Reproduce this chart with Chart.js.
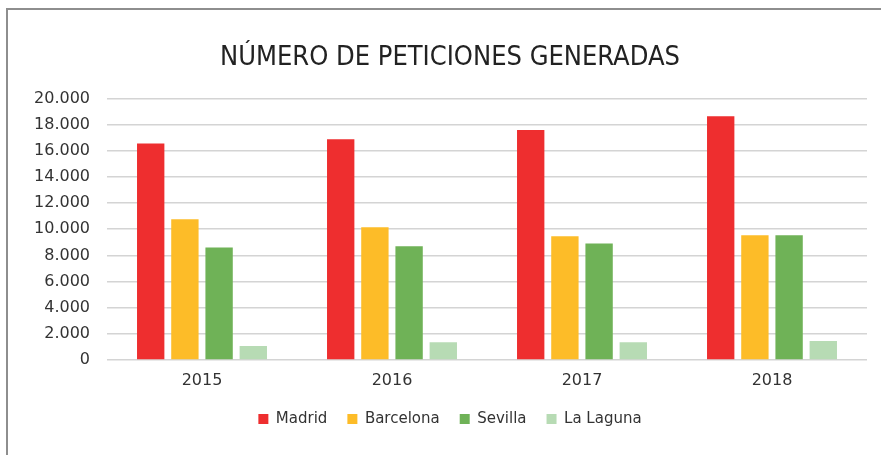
<!DOCTYPE html>
<html>
<head>
<meta charset="utf-8">
<script src="https://cdn.jsdelivr.net/npm/chart.js@4"></script>
<style>
  html, body { margin: 0; padding: 0; background: #fff; }
  #wrap { position: relative; width: 881px; height: 455px; overflow: hidden; }
  #frame {
    position: absolute; left: 6px; top: 8px; width: 900px; height: 500px;
    border-left: 2px solid #8e8e8e; border-top: 2px solid #8e8e8e;
    box-sizing: border-box;
  }
  canvas { position: absolute; left: 0; top: 0; }
</style>
</head>
<body>
<div id="wrap">
  <div id="frame"></div>
  <canvas id="chart" width="881" height="455"></canvas>
</div>
<script>
const years = ['2015', '2016', '2017', '2018'];
const madrid = [16550, 16870, 17580, 18630];
const barcelona = [10760, 10150, 9470, 9540];
const sevilla = [8600, 8700, 8900, 9540];
const laLaguna = [1070, 1350, 1350, 1450];

const colors = ['#ee2e2f', '#fdbc28', '#6fb257', '#b7dbb4'];
const font = '"DejaVu Sans", sans-serif';

const ctx = document.getElementById('chart').getContext('2d');

new Chart(ctx, {
  type: 'bar',
  data: {
    labels: years,
    datasets: [
      { label: 'Madrid', data: madrid, backgroundColor: colors[0] },
      { label: 'Barcelona', data: barcelona, backgroundColor: colors[1] },
      { label: 'Sevilla', data: sevilla, backgroundColor: colors[2] },
      { label: 'La Laguna', data: laLaguna, backgroundColor: colors[3] },
    ],
  },
  options: {
    responsive: false,
    animation: false,
    datasets: {
      bar: { barPercentage: 0.8, categoryPercentage: 0.72 },
    },
    layout: {
      padding: { left: 33, right: 14, top: 30, bottom: 18.5 },
    },
    plugins: {
      title: {
        display: true,
        text: 'NÚMERO DE PETICIONES GENERADAS',
        color: '#222',
        font: { family: '"Liberation Sans Narrow", "DejaVu Sans Condensed", sans-serif', size: 27, weight: 'normal' },
        padding: { top: 12, bottom: 24 },
      },
      legend: {
        position: 'bottom',
        labels: {
          boxWidth: 10,
          boxHeight: 10,
          padding: 20,
          color: '#333',
          font: { family: font, size: 15 },
        },
      },
      tooltip: { enabled: false },
    },
    scales: {
      x: {
        grid: { display: false, drawTicks: false },
        border: { display: false },
        ticks: {
          color: '#333',
          padding: 11.5,
          font: { family: font, size: 16 },
        },
        afterFit: (scale) => { scale.height = 31.5; },
      },
      y: {
        min: 0,
        max: 20000,
        grid: { color: '#d4d4d4', lineWidth: 1.5, drawTicks: false },
        border: { display: false },
        ticks: {
          stepSize: 2000,
          color: '#333',
          padding: 17,
          font: { family: font, size: 16 },
          callback: (v) => String(v).replace(/\B(?=(\d{3})+(?!\d))/g, '.'),
        },
        afterFit: (scale) => { scale.width = 74; },
      },
    },
  },
});
</script>
</body>
</html>
